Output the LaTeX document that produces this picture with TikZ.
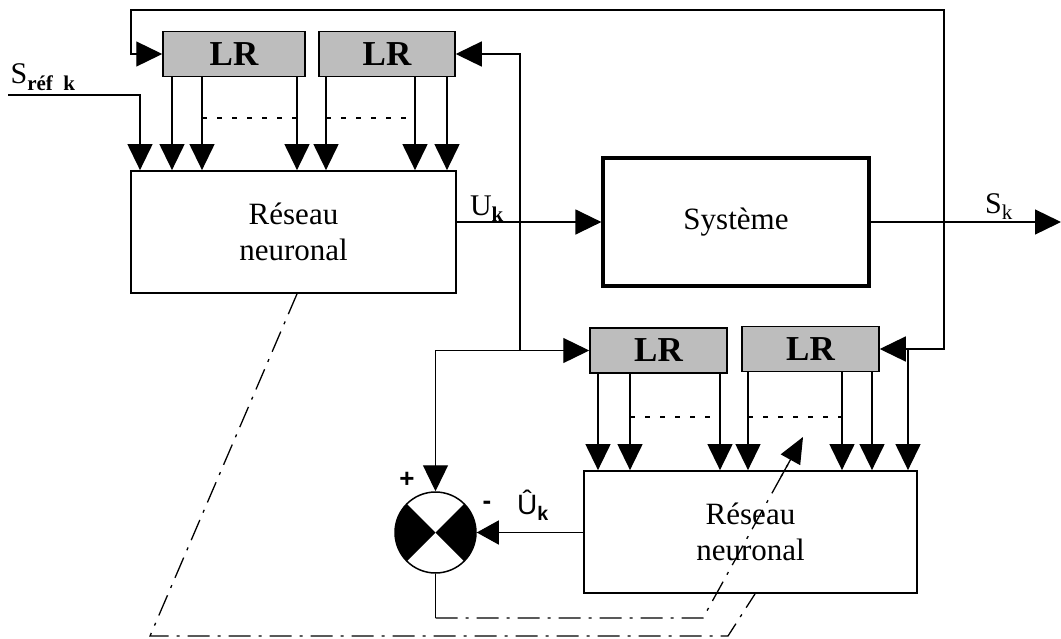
\documentclass[tikz,border=0pt]{standalone}
\usepackage{fontspec}
\setmainfont{Liberation Serif}
\newfontfamily\labelsans{Liberation Sans}
\usetikzlibrary{arrows.meta,calc}

\tikzset{
  arr/.style={-{Triangle[width=25pt,length=26pt]}},
  netbox/.style={draw, line width=1.8pt, minimum width=#1, minimum height=122pt,
    align=center, font=\fontsize{31}{36}\selectfont},
  lrbox/.style={draw, line width=1.5pt, fill=black!26, minimum width=137pt,
    minimum height=45pt, font=\bfseries\fontsize{35}{35}\selectfont},
  dashdot/.style={dash pattern=on 22pt off 8pt on 3pt off 8pt},
  dotrow/.style={dash pattern=on 5pt off 10pt},
  lab/.style={font=\fontsize{30}{30}\selectfont},
  learnarr/.style={-{Triangle[length=26pt, width=22pt]}},
}

\begin{document}
\begin{tikzpicture}[x=1pt, y=-1pt, line width=1.3pt]
    \useasboundingbox (0,0) rectangle (1061,638);
    % blocks
        \node[netbox=325pt] (res1) at (293.5,232) {Réseau\\neuronal};
        \node[netbox=266pt, line width=3.2pt, minimum height=128pt] (sys) at (736,222) {Système};
        \node[netbox=333pt] (res2) at (750.5,532) {Réseau\\neuronal};
        \node[lrbox, minimum width=142pt] (lrA) at (234,54) {LR};
        \node[lrbox, minimum width=136pt] (lrB) at (387,54) {LR};
        \node[lrbox] (lrC) at (658.5,350.5) {LR};
        \node[lrbox] (lrD) at (810.5,349) {LR};
        \node[circle, draw, line width=1.5pt, minimum size=81pt, inner sep=0pt] (sum) at (435.5,532.5) {};
        \fill (sum.center) -- ++(135:40.5pt) arc[start angle=135, end angle=225, radius=40.5pt] -- cycle;
        \fill (sum.center) -- ++(-45:40.5pt) arc[start angle=-45, end angle=45, radius=40.5pt] -- cycle;

    % inputs of the first network
        \coordinate (srefL) at (8,95);
        \node[lab, anchor=south west, inner sep=0pt] (sref) at (10,91) {S\textsubscript{\textbf{réf\ \ k}}};
        \draw[arr] (srefL) -| (res1.north -| 140,0);
        \foreach \x in {172,202,297}
            \draw[arr] (lrA.south -| \x,0) -- (res1.north -| \x,0);
        \foreach \x in {326,415,447}
            \draw[arr] (lrB.south -| \x,0) -- (res1.north -| \x,0);
        \draw[dotrow] (202,118) -- (297,118);
        \draw[dotrow] (326,118) -- (415,118);

    % command and output
        \coordinate (jU) at (520,222);
        \coordinate (jS) at (944,222);
        \coordinate (sk) at (1061,222);
        \draw[arr] (res1.east |- sys.west) -- (sys.west);
        \node[lab] (ulab) at (487,209) {U\textsubscript{\textbf{k}}};
        \draw[arr] (sys.east) -- (sk);
        \node[lab] (sklab) at (999,207) {S\textsubscript{k}};

    % feedback lines
        \draw[arr] (jS) |- (131,10) |- (lrA.west);
        \draw[arr] (jS) |- (lrD.east);
        \draw[arr] (jU) |- (lrB.east);
        \draw[arr] (jU) |- (lrC.west);
        \draw[arr] (jU |- lrC.west) -| (sum.north);

    % inputs of the second network
        \foreach \x in {598,630,720}
            \draw[arr] (lrC.south -| \x,0) -- (res2.north -| \x,0);
        \foreach \x in {748,842,872}
            \draw[arr] (lrD.south -| \x,0) -- (res2.north -| \x,0);
        \draw[arr] (lrD.east -| 908,0) -- (res2.north -| 908,0);
        \draw[dotrow] (630,417) -- (720,417);
        \draw[dotrow] (748,417) -- (842,417);

    % comparator
        \draw[-{Triangle[width=24pt,length=22pt]}] (res2.west |- sum.east) -- (sum.east);
        \node[font=\labelsans\bfseries\fontsize{26}{26}\selectfont] (plus) at (407,480) {+};
        \node[font=\labelsans\bfseries\fontsize{26}{26}\selectfont] (minus) at (487,505) {-};
        \node[font=\labelsans\fontsize{28}{28}\selectfont] (uhat) at (533,505) {Û\textsubscript{\textbf{k}}};

    % learning and weight copy
        \draw (sum.south) -- (435.5,618) coordinate (errc);
        \coordinate (tipL) at (803,437);
        \coordinate (tailL) at (703,618);
        \draw[dashdot] (errc) -- (tailL) -- (tipL);
        \draw[learnarr] ($(tailL)!0.78!(tipL)$) -- (tipL);
        \draw[dashdot] (res1.south -| 297,0) -- (150,636) -- (728,636) -- (res2.south -| 755,0);
\end{tikzpicture}
\end{document}
